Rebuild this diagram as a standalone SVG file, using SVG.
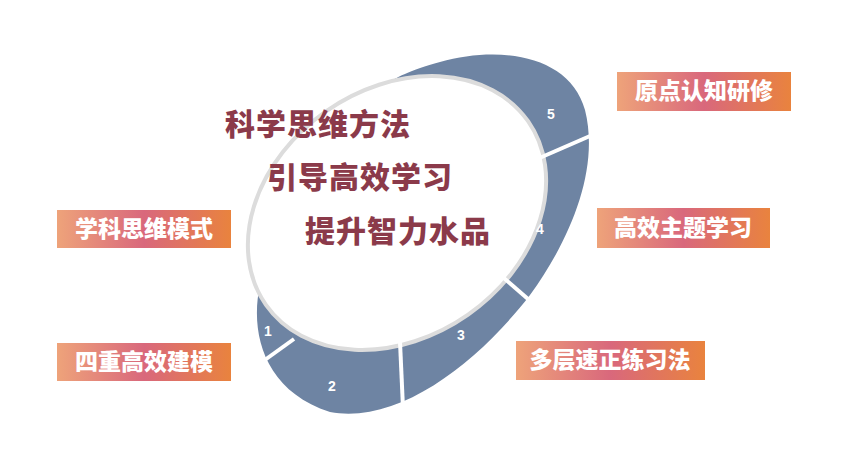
<svg xmlns="http://www.w3.org/2000/svg" width="865" height="471" viewBox="0 0 865 471">
<defs>
<linearGradient id="g" x1="0" y1="0" x2="1" y2="0">
<stop offset="0" stop-color="#eea37a"/><stop offset="0.5" stop-color="#d9687c"/><stop offset="1" stop-color="#e9833e"/>
</linearGradient>
<style>
.lb{font-family:"Noto Sans CJK SC",sans-serif;font-weight:900;font-size:23px;fill:#fff;text-anchor:middle}
.ct{font-family:"Noto Sans CJK SC",sans-serif;font-weight:900;font-size:30px;fill:#8b3a4a;letter-spacing:1px}
.n{font-family:"Liberation Sans",sans-serif;font-weight:700;font-size:14px;fill:#fff;text-anchor:middle}
.sep{stroke:#fff;stroke-width:4}
</style>
</defs>
<rect width="865" height="471" fill="#fff"/>
<g id="ring">
<path d="M260 285 C250 330,262 390,330 412 C400 425,480 360,530 295 C570 240,600 170,585 110 C570 55,500 45,440 62 C410 70,395 78,385 85 Z" fill="#6e84a3"/>
<ellipse cx="397" cy="213" rx="160" ry="124" transform="rotate(-35 397 213)" fill="#fff" stroke="#dcdcdc" stroke-width="4"/>
</g>
<g id="connectors">
<line class="sep" x1="262" y1="362" x2="294" y2="339"/>
<line class="sep" x1="400" y1="342" x2="403" y2="408"/>
<line class="sep" x1="490" y1="266" x2="528" y2="299"/>
<line class="sep" x1="528" y1="163" x2="590" y2="136"/>
</g>
<g id="numbers">
<text class="n" x="268" y="336">1</text>
<text class="n" x="332" y="391">2</text>
<text class="n" x="461" y="340">3</text>
<text class="n" x="540" y="234">4</text>
<text class="n" x="551" y="119">5</text>
</g>
<g id="center">
<text class="ct" x="225" y="135">科学思维方法</text>
<text class="ct" x="267" y="188">引导高效学习</text>
<text class="ct" x="305" y="242">提升智力水品</text>
</g>
<g id="n1"><rect x="617" y="72" width="174" height="39" fill="url(#g)"/><text class="lb" x="704" y="99">原点认知研修</text></g>
<g id="n2"><rect x="597" y="208" width="173" height="40" fill="url(#g)"/><text class="lb" x="683" y="236">高效主题学习</text></g>
<g id="n3"><rect x="516" y="341" width="189" height="39" fill="url(#g)"/><text class="lb" x="610" y="368">多层速正练习法</text></g>
<g id="n4"><rect x="57" y="210" width="174" height="38" fill="url(#g)"/><text class="lb" x="144" y="237">学科思维模式</text></g>
<g id="n5"><rect x="57" y="343" width="174" height="38" fill="url(#g)"/><text class="lb" x="144" y="370">四重高效建模</text></g>
</svg>
